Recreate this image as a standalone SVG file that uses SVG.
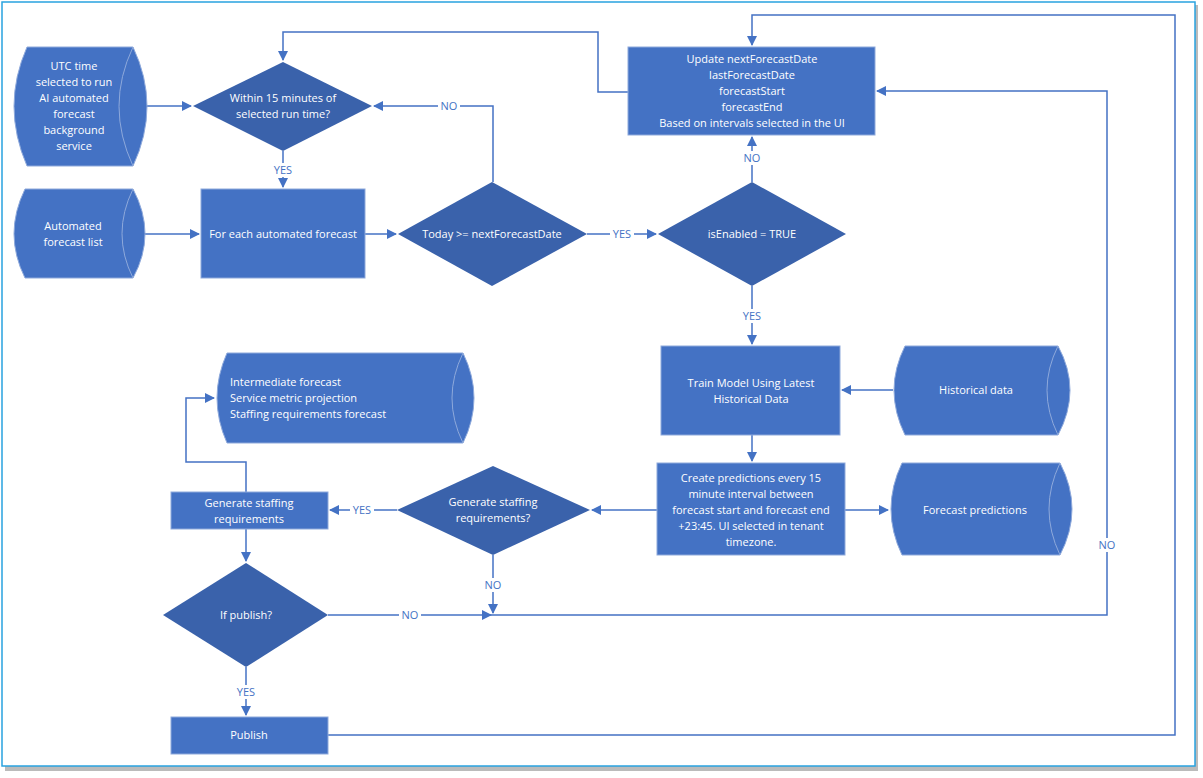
<svg xmlns="http://www.w3.org/2000/svg" width="1203" height="778" viewBox="0 0 1203 778">
<defs>
<marker id="ar" viewBox="0 0 10 10" refX="9" refY="5" markerWidth="10" markerHeight="10" markerUnits="userSpaceOnUse" orient="auto"><path d="M0,0 L10,5 L0,10 Z" fill="#4472C4"/></marker>
<style>
.b{fill:#4472C4;stroke:#8EA9DB;stroke-width:1}
.d{fill:#3A62AB}
.c{fill:none;stroke:#4472C4;stroke-width:1.5}
.t{font-family:"Open Sans","Liberation Sans",sans-serif;font-size:11px;fill:#fff;text-anchor:middle}
.l{font-family:"Open Sans","Liberation Sans",sans-serif;font-size:11px;fill:#4472C4;text-anchor:middle}
.arc{fill:none;stroke:#8EA9DB;stroke-width:1}
</style>
</defs>
<rect width="1203" height="778" fill="#fff"/>
<rect x="5" y="5" width="1193" height="766" fill="#bbb"/>
<rect x="2" y="2" width="1193" height="764" fill="#fff" stroke="#29A3E0" stroke-width="1.5"/>
<g id="connectors">
<path class="c" d="M147,106 H191" marker-end="url(#ar)"/>
<path class="c" d="M144,234 H199" marker-end="url(#ar)"/>
<path class="c" d="M283,151 V187" marker-end="url(#ar)"/>
<path class="c" d="M365,234 H396" marker-end="url(#ar)"/>
<path class="c" d="M493,182 V106 H374" marker-end="url(#ar)"/>
<path class="c" d="M628,92 H598 V32 H283 V60" marker-end="url(#ar)"/>
<path class="c" d="M587,234 H656" marker-end="url(#ar)"/>
<path class="c" d="M752,182 V137" marker-end="url(#ar)"/>
<path class="c" d="M752,286 V344" marker-end="url(#ar)"/>
<path class="c" d="M893,390 H842" marker-end="url(#ar)"/>
<path class="c" d="M752,435 V461" marker-end="url(#ar)"/>
<path class="c" d="M845,510 H888" marker-end="url(#ar)"/>
<path class="c" d="M657,510 H592" marker-end="url(#ar)"/>
<path class="c" d="M397,510 H330" marker-end="url(#ar)"/>
<path class="c" d="M246,492 V462 H186 V398 H214" marker-end="url(#ar)"/>
<path class="c" d="M246,529 V561" marker-end="url(#ar)"/>
<path class="c" d="M493,555 V613" marker-end="url(#ar)"/>
<path class="c" d="M328,615 H491" marker-end="url(#ar)"/>
<path class="c" d="M491,615 H1107 V91 H877" marker-end="url(#ar)"/>
<path class="c" d="M246,667 V715" marker-end="url(#ar)"/>
<path class="c" d="M328,735 H1175 V15 H752 V45" marker-end="url(#ar)"/>
<g>
<rect x="272" y="163" width="22" height="14" fill="#fff"/><text class="l" x="283" y="174">YES</text>
<rect x="438" y="99" width="22" height="14" fill="#fff"/><text class="l" x="449" y="110">NO</text>
<rect x="610" y="227" width="24" height="14" fill="#fff"/><text class="l" x="622" y="238">YES</text>
<rect x="741" y="151" width="22" height="14" fill="#fff"/><text class="l" x="752" y="162">NO</text>
<rect x="740" y="309" width="24" height="14" fill="#fff"/><text class="l" x="752" y="320">YES</text>
<rect x="350" y="503" width="24" height="14" fill="#fff"/><text class="l" x="362" y="514">YES</text>
<rect x="482" y="578" width="22" height="14" fill="#fff"/><text class="l" x="493" y="589">NO</text>
<rect x="399" y="608" width="22" height="14" fill="#fff"/><text class="l" x="410" y="619">NO</text>
<rect x="1096" y="538" width="22" height="14" fill="#fff"/><text class="l" x="1107" y="549">NO</text>
<rect x="234" y="685" width="24" height="14" fill="#fff"/><text class="l" x="246" y="696">YES</text>
</g>
</g>
<g id="utc">
<path class="b" d="M27,47 H133 Q161,106 133,166 H27 Q1,106 27,47 Z"/><path class="arc" d="M133,47 Q105,106 133,166"/>
<text class="t"><tspan x="74" y="70">UTC time</tspan><tspan x="74" y="86">selected to run</tspan><tspan x="74" y="102">AI automated</tspan><tspan x="74" y="118">forecast</tspan><tspan x="74" y="134">background</tspan><tspan x="74" y="150">service</tspan></text>
</g>
<g id="within"><path class="d" d="M283,62 L372,106 L283,151 L193,106 Z"/><text class="t"><tspan x="283" y="102">Within 15 minutes of</tspan><tspan x="283" y="118">selected run time?</tspan></text></g>
<g id="list">
<path class="b" d="M25,189 H133 Q157,234 133,278 H25 Q3,234 25,189 Z"/><path class="arc" d="M133,189 Q111,234 133,278"/>
<text class="t"><tspan x="73" y="230">Automated</tspan><tspan x="73" y="246">forecast list</tspan></text>
</g>
<g id="foreach"><rect class="b" x="201" y="189" width="164" height="89"/><text class="t" x="283" y="238">For each automated forecast</text></g>
<g id="today"><path class="d" d="M492,182 L587,234 L492,286 L398,234 Z"/><text class="t" x="492" y="238">Today &gt;= nextForecastDate</text></g>
<g id="enabled"><path class="d" d="M752,182 L846,234 L752,286 L658,234 Z"/><text class="t" x="752" y="238">isEnabled = TRUE</text></g>
<g id="update"><rect class="b" x="628" y="47" width="247" height="88"/><text class="t"><tspan x="752" y="63">Update nextForecastDate</tspan><tspan x="752" y="79">lastForecastDate</tspan><tspan x="752" y="95">forecastStart</tspan><tspan x="752" y="111">forecastEnd</tspan><tspan x="752" y="127">Based on intervals selected in the UI</tspan></text></g>
<g id="train"><rect class="b" x="661" y="346" width="179" height="89"/><text class="t"><tspan x="751" y="387">Train Model Using Latest</tspan><tspan x="751" y="403">Historical Data</tspan></text></g>
<g id="historical">
<path class="b" d="M905,346 H1058 Q1082,390 1058,435 H905 Q883,390 905,346 Z"/><path class="arc" d="M1058,346 Q1036,390 1058,435"/>
<text class="t" x="976" y="394">Historical data</text>
</g>
<g id="create"><rect class="b" x="657" y="463" width="188" height="92"/><text class="t"><tspan x="751" y="482">Create predictions every 15</tspan><tspan x="751" y="498">minute interval between</tspan><tspan x="751" y="514">forecast start and forecast end</tspan><tspan x="751" y="530">+23:45. UI selected in tenant</tspan><tspan x="751" y="546">timezone.</tspan></text></g>
<g id="predictions">
<path class="b" d="M902,463 H1060 Q1084,509 1060,555 H902 Q880,509 902,463 Z"/><path class="arc" d="M1060,463 Q1038,509 1060,555"/>
<text class="t" x="975" y="514">Forecast predictions</text>
</g>
<g id="genq"><path class="d" d="M493,466 L590,510 L493,555 L397,510 Z"/><text class="t"><tspan x="493" y="506">Generate staffing</tspan><tspan x="493" y="522">requirements?</tspan></text></g>
<g id="intermediate">
<path class="b" d="M227,353 H463 Q485,398 463,443 H227 Q207,398 227,353 Z"/><path class="arc" d="M463,353 Q441,398 463,443"/>
<text class="t" style="text-anchor:start"><tspan x="230" y="386">Intermediate forecast</tspan><tspan x="230" y="402">Service metric projection</tspan><tspan x="230" y="418">Staffing requirements forecast</tspan></text>
</g>
<g id="genbox"><rect class="b" x="171" y="492" width="157" height="37"/><text class="t"><tspan x="249" y="507">Generate staffing</tspan><tspan x="249" y="523">requirements</tspan></text></g>
<g id="ifpublish"><path class="d" d="M246,563 L328,615 L246,667 L163,615 Z"/><text class="t" x="246" y="619">If publish?</text></g>
<g id="publish"><rect class="b" x="171" y="717" width="157" height="37"/><text class="t" x="249" y="739">Publish</text></g>
</svg>
